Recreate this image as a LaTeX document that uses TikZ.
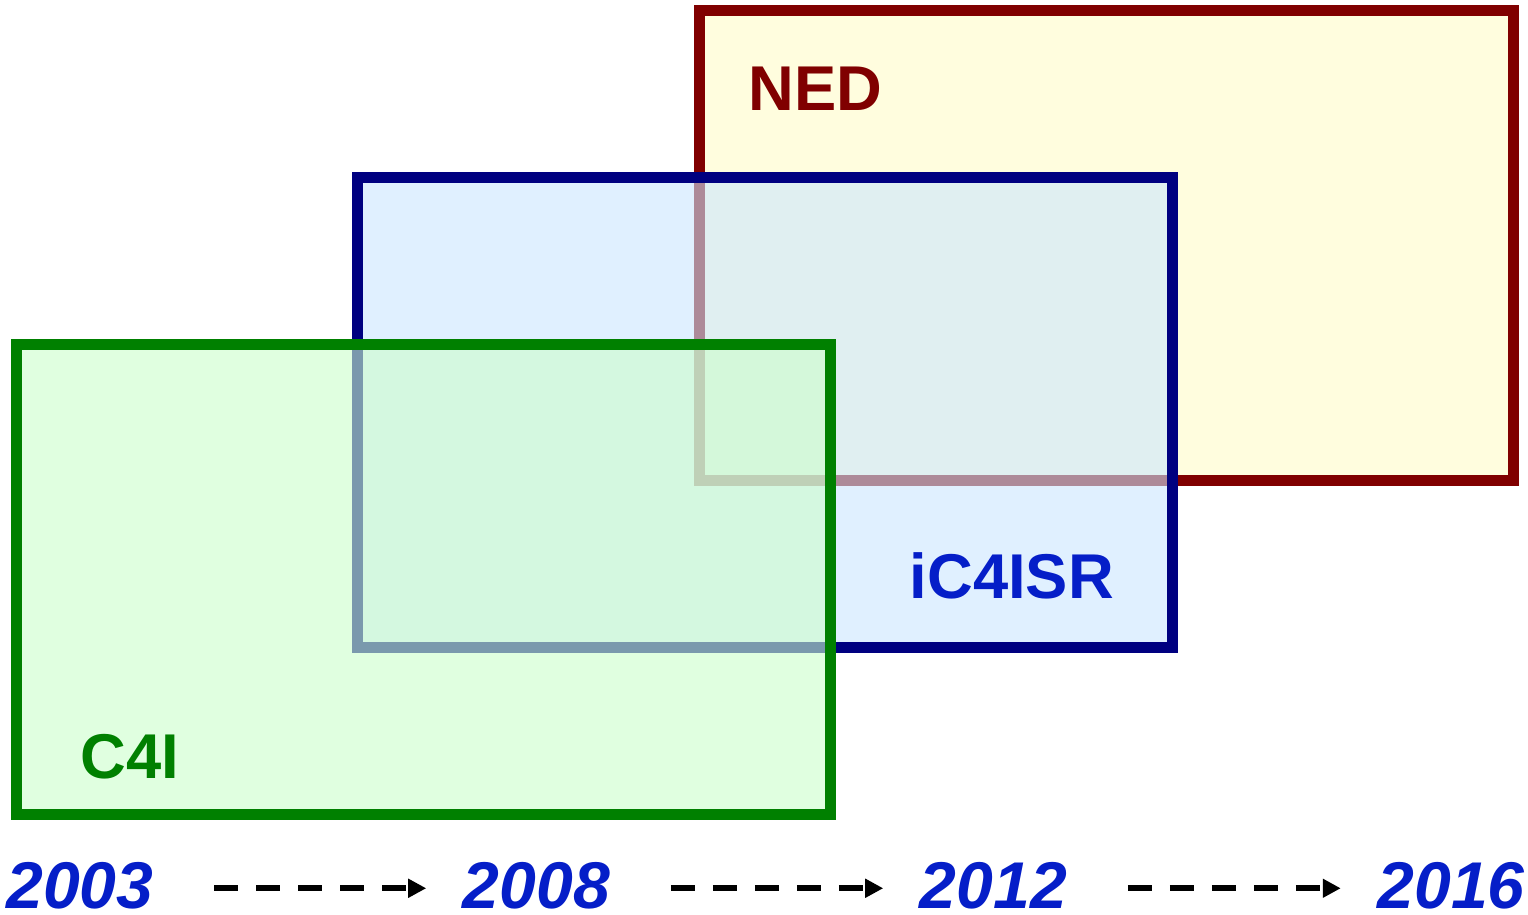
\documentclass[tikz,border=0pt]{standalone}
\usepackage{fontspec}
\setmainfont{Liberation Sans}
\usetikzlibrary{positioning,arrows.meta}

\definecolor{nedred}{RGB}{128,0,0}
\definecolor{nedfill}{RGB}{255,253,222}
\definecolor{isrblue}{RGB}{0,0,128}
\definecolor{isrfill}{RGB}{204,230,255}
\definecolor{isrtext}{RGB}{5,30,200}
\definecolor{cfourgreen}{RGB}{0,128,0}
\definecolor{cfourfill}{RGB}{204,255,204}

\tikzset{
    panel/.style={draw, line width=0.11cm, minimum width=8.14cm, minimum height=4.70cm, inner sep=0pt},
    tag/.style={font=\fontsize{18pt}{22pt}\selectfont\bfseries, inner sep=0pt, anchor=base west},
    year/.style={font=\fontsize{18.8pt}{22pt}\selectfont\bfseries\itshape, text=isrtext, inner sep=0pt, anchor=base},
    flow/.style={line width=0.06cm, dash pattern=on 0.24cm off 0.18cm, -{Triangle[length=0.18cm,width=0.18cm]},
        shorten <=0.60cm, shorten >=0.36cm}
}

\begin{document}
\begin{tikzpicture}[x=0.01cm, y=-0.01cm]
\useasboundingbox (0,0) rectangle (1528,914);

% Project boxes
\node[panel, color=nedred, fill=nedfill] (ned) at (1106.5,245.5) {};
\node[panel, color=isrblue, fill=isrfill, fill opacity=0.6] (isr) at (765,412.5) {};
\node[panel, color=cfourgreen, fill=cfourfill, fill opacity=0.6] (cfour) at (423.5,579.5) {};

% Box names
\node[tag, text=nedred] (nedname) at (748,110) {NED};
\node[tag, text=isrtext] (isrname) at (909,598) {iC4ISR};
\node[tag, text=cfourgreen] (cfourname) at (80,778) {C4I};

% Years
\node[year] (y2003) at (80,908) {2003};
\node[year] (y2008) at (536.5,908) {2008};
\node[year] (y2012) at (993.5,908) {2012};
\node[year] (y2016) at (1451,908) {2016};

% Arrows
\draw[flow] ([yshift=-0.03cm]y2003.east) -- ([yshift=-0.03cm]y2008.west);
\draw[flow] ([yshift=-0.03cm]y2008.east) -- ([yshift=-0.03cm]y2012.west);
\draw[flow] ([yshift=-0.03cm]y2012.east) -- ([yshift=-0.03cm]y2016.west);

\end{tikzpicture}
\end{document}
